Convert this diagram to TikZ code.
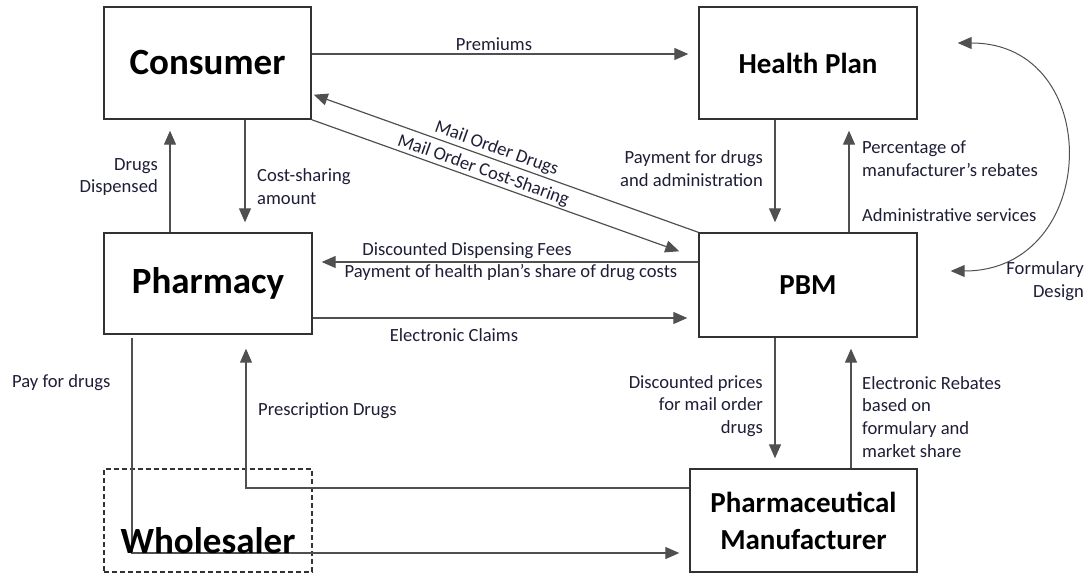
\documentclass[tikz,border=0pt]{standalone}
\usepackage{fontspec}
\setmainfont{Carlito}
\usetikzlibrary{arrows.meta}
\definecolor{linec}{RGB}{80,80,80}
\definecolor{boxc}{RGB}{50,50,50}
\definecolor{labc}{RGB}{30,30,55}
\begin{document}
\begin{tikzpicture}[x=1pt,y=-1pt,
  box/.style={draw=boxc, line width=1.4pt, fill=white, inner sep=0pt, text=black,
    font=\bfseries\fontsize{37}{40}\selectfont},
  midfont/.style={font=\bfseries\fontsize{29}{37}\selectfont},
  lab/.style={text=labc, font=\fontsize{18.6}{22.8}\selectfont, inner sep=0pt},
  arr/.style={draw=linec, line width=1.2pt, -{Triangle[length=14pt,width=12pt]}},
  dblarr/.style={draw=linec, line width=1pt, {Triangle[length=14pt,width=12pt]}-{Triangle[length=14pt,width=12pt]}}
]
\useasboundingbox (0,0) rectangle (1091,575);

% parties
\node[box, minimum width=207pt, minimum height=112pt] (consumer) at (207.5,63) {Consumer};
\node[box, midfont, minimum width=218pt, minimum height=112pt] (health) at (808,63) {Health Plan};
\node[box, minimum width=208pt, minimum height=101pt] (pharmacy) at (208,283.5) {Pharmacy};
\node[box, midfont, minimum width=218pt, minimum height=104pt] (pbm) at (808,285) {PBM};
\node[box, midfont, minimum width=227pt, minimum height=103pt, align=center] (manuf) at (803.5,520.5) {Pharmaceutical\\Manufacturer};
\node[draw=boxc, line width=1.2pt, dash pattern=on 5pt off 3pt, minimum width=208pt, minimum height=103pt, inner sep=0pt] (wholesaler) at (208,520.5) {};

% flows
\draw[arr] ([yshift=9pt]consumer.east) -- ([xshift=-10pt,yshift=9pt]health.west);
\draw[arr, {Triangle[length=14pt,width=12pt]}-] ([xshift=2pt,yshift=25pt]consumer.south east) -- (pbm.north west)
  node[lab, pos=0.466, sloped, above=2pt] (lmod) {Mail Order Drugs};
\draw[arr] (consumer.south east) -- ([xshift=-19pt,yshift=-19pt]pbm.north west)
  node[lab, pos=0.458, sloped, above=1pt] (lmocs) {Mail Order Cost-Sharing};
\draw[arr] ([xshift=37.5pt]consumer.south) -- ([xshift=37pt,yshift=10pt]pharmacy.north);
\draw[arr] ([xshift=-38pt]pharmacy.north) -- ([xshift=-37.5pt,yshift=-11pt]consumer.south);
\draw[arr] ([xshift=-33pt]health.south) -- ([xshift=-33pt,yshift=10pt]pbm.north);
\draw[arr] ([xshift=41pt]pbm.north) -- ([xshift=41pt,yshift=-11pt]health.south);
\draw[arr] ([yshift=23pt]pbm.west) -- ([xshift=9pt,yshift=21.5pt]pharmacy.east);
\draw[arr] ([yshift=-34.5pt]pharmacy.east) -- ([xshift=-11pt,yshift=-33pt]pbm.west);
\draw[arr] ([xshift=-33pt]pbm.south) -- ([xshift=-28.5pt,yshift=10pt]manuf.north);
\draw[arr] ([xshift=47.5pt]manuf.north) -- ([xshift=43pt,yshift=-11pt]pbm.south);
\draw[arr] ([yshift=32.5pt]manuf.west) -| ([xshift=38pt,yshift=-14pt]pharmacy.south);
\draw[arr] ([xshift=-76pt,yshift=-3pt]pharmacy.south) |- ([xshift=-10pt,yshift=-32.5pt]manuf.west);
\draw[dblarr] ([xshift=40pt,yshift=20pt]health.east) .. controls +(148,0) and +(150,0) .. ([xshift=33pt,yshift=14pt]pbm.east);

\node[lab, font=\bfseries\fontsize{37}{40}\selectfont, text=black] (wtext) at (208,541) {Wholesaler};

% flow labels
\node[lab] (lprem) at (494,44) {Premiums};
\node[lab, anchor=west, align=left] (lcost) at (257,187) {Cost-sharing\\amount};
\node[lab, anchor=east, align=right] (ldisp) at (158,177) {Drugs\\Dispensed};
\node[lab, anchor=east, align=right] (lpay) at (763,169) {Payment for drugs\\and administration};
\node[lab, anchor=west, align=left] (lperc) at (862,159) {Percentage of\\manufacturer’s rebates};
\node[lab, anchor=west] (ladmin) at (862,215) {Administrative services};
\node[lab, anchor=east, align=right] (lform) at (1084,281) {Formulary\\Design};
\node[lab] (lfees) at (467,251) {Discounted Dispensing Fees};
\node[lab] (lshare) at (511,273) {Payment of health plan’s share of drug costs};
\node[lab] (lclaims) at (454,335) {Electronic Claims};
\node[lab, anchor=west] (lpaydr) at (12,383) {Pay for drugs};
\node[lab, anchor=west] (lrx) at (258,411) {Prescription Drugs};
\node[lab, anchor=east, align=right] (lmail) at (763,406) {Discounted prices\\for mail order\\drugs};
\node[lab, anchor=west, align=left] (lreb) at (862,417) {Electronic Rebates\\based on\\formulary and\\market share};
\end{tikzpicture}
\end{document}
